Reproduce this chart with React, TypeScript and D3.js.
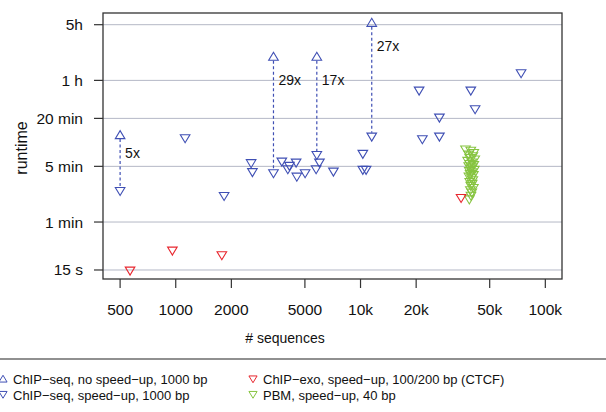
import React, { useEffect, useRef } from "react";
import * as d3 from "d3";

// runtime (seconds) vs number of sequences
const noSpeedup = [
  { n: 500, t: 742 },
  { n: 3380, t: 7140 },
  { n: 5800, t: 7140 },
  { n: 11500, t: 19050 },
];
// speed-up runs matching the no-speed-up runs above
const pairedSpeedup = [
  { n: 500, t: 147 },
  { n: 3380, t: 245 },
  { n: 5800, t: 416 },
  { n: 11500, t: 707 },
];
const speedupLabels = ["5x", "29x", "17x", "27x"];
const speedupLabelAt = [435, 3600, 3600, 9800];

const chipSeqSpeedup = [
  { n: 1124, t: 675 },
  { n: 1827, t: 127 },
  { n: 2558, t: 328 },
  { n: 2600, t: 253 },
  { n: 3750, t: 343 },
  { n: 4123, t: 303 },
  { n: 4042, t: 275 },
  { n: 4481, t: 333 },
  { n: 4521, t: 222 },
  { n: 5012, t: 245 },
  { n: 5992, t: 333 },
  { n: 5750, t: 275 },
  { n: 7133, t: 257 },
  { n: 10290, t: 429 },
  { n: 10290, t: 270 },
  { n: 10720, t: 270 },
  { n: 73940, t: 4416 },
  { n: 20750, t: 2671 },
  { n: 39510, t: 2671 },
  { n: 41690, t: 1560 },
  { n: 26720, t: 1223 },
  { n: 21610, t: 655 },
  { n: 26720, t: 707 },
];

const chipExo = [
  { n: 566, t: 14.7 },
  { n: 959, t: 26.2 },
  { n: 1776, t: 22.9 },
  { n: 35010, t: 120 },
];

const pbm = [
  { n: 37000, t: 486 }, { n: 39500, t: 470 }, { n: 41000, t: 440 },
  { n: 38500, t: 420 }, { n: 40500, t: 400 }, { n: 39000, t: 380 },
  { n: 41500, t: 365 }, { n: 38000, t: 350 }, { n: 40000, t: 335 },
  { n: 39000, t: 320 }, { n: 41000, t: 310 }, { n: 38500, t: 300 },
  { n: 40200, t: 290 }, { n: 39500, t: 280 }, { n: 41300, t: 270 },
  { n: 38800, t: 262 }, { n: 40000, t: 252 }, { n: 39200, t: 240 },
  { n: 40800, t: 232 }, { n: 38600, t: 222 }, { n: 39800, t: 212 },
  { n: 40500, t: 200 }, { n: 39000, t: 190 }, { n: 40200, t: 180 },
  { n: 39500, t: 170 }, { n: 40800, t: 160 }, { n: 39300, t: 150 },
  { n: 40000, t: 140 }, { n: 39600, t: 128 }, { n: 38800, t: 115 },
];

const xTicks = [500, 1000, 2000, 5000, 10000, 20000, 50000, 100000];
const xTickLabels = ["500", "1000", "2000", "5000", "10k", "20k", "50k", "100k"];
const yTicks = [15, 60, 300, 1200, 3600, 18000];
const yTickLabels = ["15 s", "1 min", "5 min", "20 min", "1 h", "5h"];

const legendItems = [
  { label: "ChIP\u2212seq, no speed\u2212up, 1000 bp", color: "#3f4fb4", up: true },
  { label: "ChIP\u2212seq, speed\u2212up, 1000 bp", color: "#3f4fb4", up: false },
  { label: "ChIP\u2212exo, speed\u2212up, 100/200 bp (CTCF)", color: "#e8262e", up: false },
  { label: "PBM, speed\u2212up, 40 bp", color: "#86c440", up: false },
];

const BLUE = "#3f4fb4";
const RED = "#e8262e";
const GREEN = "#86c440";
const FONT = "'Liberation Sans', Arial, Helvetica, sans-serif";

const tri = (up, s = 1) => {
  const w = 4.8 * s;
  return up
    ? `M${-w},${3.6 * s}L${w},${3.6 * s}L0,${-4.4 * s}Z`
    : `M${-w},${-3.6 * s}L${w},${-3.6 * s}L0,${4.4 * s}Z`;
};

export default function App() {
  const ref = useRef(null);

  useEffect(() => {
    const svg = d3.select(ref.current);
    svg.selectAll("*").remove();

    const width = 606;
    const height = 412;
    const box = { left: 103, right: 562, top: 13, bottom: 279 };

    const x = d3.scaleLog().domain([404, 123100]).range([box.left, box.right]);
    const y = d3.scaleLog().domain([11.56, 25240]).range([box.bottom, box.top]);

    svg.attr("width", width).attr("height", height).style("font-family", FONT);

    // horizontal guide lines
    svg.append("g")
      .selectAll("line")
      .data(yTicks)
      .join("line")
      .attr("x1", box.left).attr("x2", box.right)
      .attr("y1", (d) => y(d)).attr("y2", (d) => y(d))
      .attr("stroke", "#b4b8c6").attr("stroke-width", 1);

    // dashed speed-up connectors
    const pairs = noSpeedup.map((d, i) => ({ a: d, b: pairedSpeedup[i], label: speedupLabels[i], at: speedupLabelAt[i] }));
    svg.append("g")
      .selectAll("line")
      .data(pairs)
      .join("line")
      .attr("x1", (d) => x(d.a.n)).attr("x2", (d) => x(d.b.n))
      .attr("y1", (d) => y(d.a.t) + 4).attr("y2", (d) => y(d.b.t) - 4)
      .attr("stroke", BLUE).attr("stroke-width", 1.2).attr("stroke-dasharray", "3 2.5");

    svg.append("g")
      .selectAll("text")
      .data(pairs)
      .join("text")
      .attr("x", (d) => x(d.a.n) + 5)
      .attr("y", (d) => y(d.at) + 5)
      .attr("font-size", 14).attr("fill", "#111")
      .text((d) => d.label);

    const drawPts = (data, color, up) => {
      svg.append("g")
        .selectAll("path")
        .data(data)
        .join("path")
        .attr("transform", (d) => `translate(${x(d.n)},${y(d.t)})`)
        .attr("d", tri(up))
        .attr("fill", "none")
        .attr("stroke", color)
        .attr("stroke-width", 1.1);
    };

    drawPts(pbm, GREEN, false);
    drawPts(chipExo, RED, false);
    drawPts(chipSeqSpeedup, BLUE, false);
    drawPts(pairedSpeedup, BLUE, false);
    drawPts(noSpeedup, BLUE, true);

    // box
    svg.append("rect")
      .attr("x", box.left).attr("y", box.top)
      .attr("width", box.right - box.left).attr("height", box.bottom - box.top)
      .attr("fill", "none").attr("stroke", "#333").attr("stroke-width", 1.3);

    // x axis ticks
    const xg = svg.append("g");
    xg.selectAll("line")
      .data(xTicks)
      .join("line")
      .attr("x1", (d) => x(d)).attr("x2", (d) => x(d))
      .attr("y1", box.bottom).attr("y2", box.bottom + 9)
      .attr("stroke", "#333").attr("stroke-width", 1.2);
    xg.selectAll("text")
      .data(xTicks)
      .join("text")
      .attr("x", (d) => x(d)).attr("y", 315)
      .attr("text-anchor", "middle").attr("font-size", 15.5).attr("fill", "#111")
      .text((d, i) => xTickLabels[i]);

    // y axis ticks
    const yg = svg.append("g");
    yg.selectAll("line")
      .data(yTicks)
      .join("line")
      .attr("x1", box.left - 9).attr("x2", box.left)
      .attr("y1", (d) => y(d)).attr("y2", (d) => y(d))
      .attr("stroke", "#333").attr("stroke-width", 1.2);
    yg.selectAll("text")
      .data(yTicks)
      .join("text")
      .attr("x", 83).attr("y", (d) => y(d) + 5.5)
      .attr("text-anchor", "end").attr("font-size", 15.5).attr("fill", "#111")
      .text((d, i) => yTickLabels[i]);

    // axis titles
    svg.append("text")
      .attr("x", 285).attr("y", 343)
      .attr("text-anchor", "middle").attr("font-size", 14).attr("fill", "#111")
      .text("# sequences");
    svg.append("text")
      .attr("transform", "rotate(-90)")
      .attr("x", -148).attr("y", 27)
      .attr("text-anchor", "middle").attr("font-size", 16).attr("fill", "#111")
      .text("runtime");

    // legend
    svg.append("line")
      .attr("x1", 0).attr("x2", width)
      .attr("y1", 359).attr("y2", 359)
      .attr("stroke", "#222").attr("stroke-width", 1.2);

    const cols = [3, 253];
    const rows = [379, 394.5];
    const lg = svg.append("g")
      .selectAll("g")
      .data(legendItems)
      .join("g")
      .attr("transform", (d, i) => `translate(${cols[Math.floor(i / 2)]},${rows[i % 2]})`);
    lg.append("path")
      .attr("d", (d) => tri(d.up, 0.85))
      .attr("fill", "none").attr("stroke", (d) => d.color).attr("stroke-width", 1);
    lg.append("text")
      .attr("x", 10).attr("y", 5)
      .attr("font-size", 13).attr("fill", "#111")
      .text((d) => d.label);
  }, []);

  return <svg ref={ref} style={{ position: "absolute", left: 0, top: 0 }} />;
}
